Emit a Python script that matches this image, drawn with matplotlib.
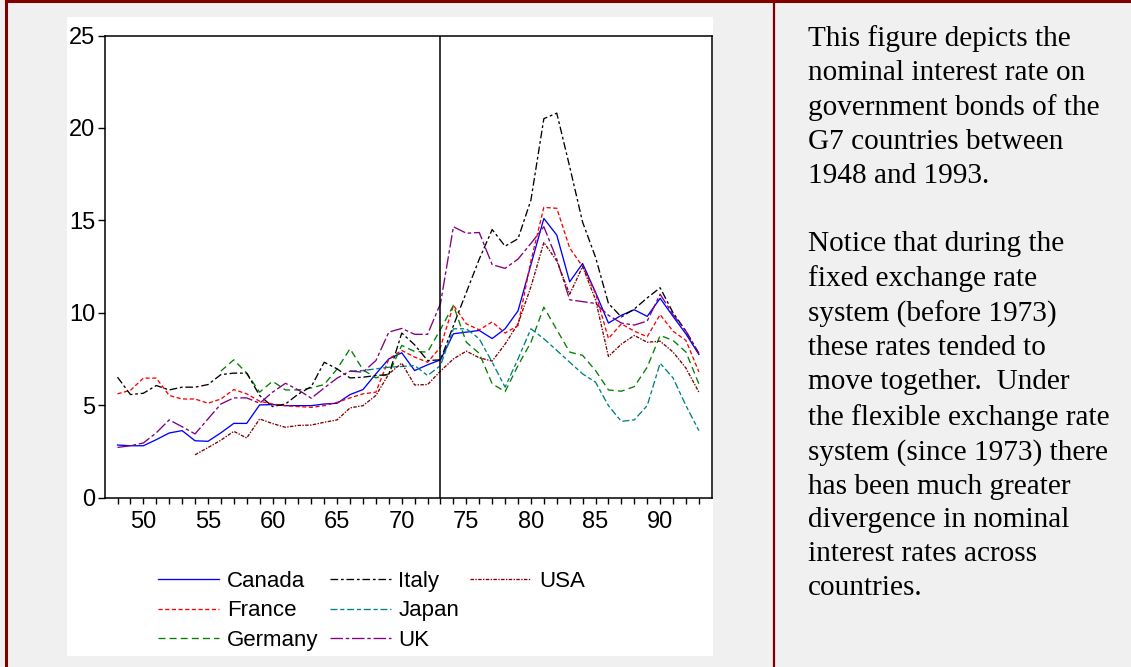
import numpy as np
import matplotlib
matplotlib.use("Agg")
import matplotlib.pyplot as plt
from matplotlib.patches import Rectangle
from matplotlib.lines import Line2D
from matplotlib.ticker import FixedLocator, FuncFormatter

nan = np.nan
years = list(range(1948, 1994))

# nominal government bond rates
canada = [2.84, 2.80, 2.80, 3.13, 3.49, 3.62, 3.07, 3.04, 3.50, 4.01,
          4.01, 5.01, 5.03, 4.97, 4.97, 4.97, 5.06, 5.10, 5.57, 5.84,
          6.69, 7.50, 7.83, 6.87, 7.18, 7.45, 8.86, 8.95, 9.04, 8.60,
          9.13, 10.10, 12.60, 15.10, 14.20, 11.67, 12.66, 11.10, 9.44, 9.86,
          10.16, 9.80, 10.78, 9.80, 8.85, 7.74]
france = [5.61, 5.80, 6.46, 6.46, 5.52, 5.33, 5.33, 5.10, 5.33, 5.84,
          5.61, 5.21, 5.06, 4.97, 4.92, 4.88, 4.97, 5.15, 5.39, 5.61,
          5.70, 7.50, 7.96, 7.60, 7.32, 8.14, 10.40, 9.40, 9.07, 9.50,
          8.90, 9.30, 12.80, 15.70, 15.65, 13.50, 12.50, 11.05, 8.60, 9.40,
          9.00, 8.70, 9.90, 9.00, 8.50, 6.80]
germany = [nan, nan, nan, nan, nan, nan, nan, nan, 6.84, 7.45,
           6.73, 5.70, 6.29, 5.82, 5.82, 5.93, 6.11, 6.96, 8.05, 6.91,
           6.47, 6.69, 8.23, 7.90, 7.87, 9.10, 10.40, 8.40, 7.80, 6.15,
           5.73, 7.14, 8.40, 10.30, 9.08, 7.87, 7.69, 6.87, 5.82, 5.75,
           6.00, 7.05, 8.77, 8.50, 7.87, 6.15]
italy = [6.51, 5.57, 5.64, 6.06, 5.82, 5.97, 5.97, 6.11, 6.65, 6.73,
         6.73, 5.52, 4.92, 5.06, 5.60, 6.00, 7.32, 6.96, 6.47, 6.51,
         6.60, 6.65, 8.90, 8.26, 7.41, 7.45, 9.30, 11.10, 12.90, 14.50,
         13.60, 14.00, 16.10, 20.50, 20.80, 17.90, 14.90, 13.00, 10.50, 9.77,
         10.20, 10.80, 11.35, 10.00, 9.00, 7.80]
japan = [nan, nan, nan, nan, nan, nan, nan, nan, nan, nan,
         nan, nan, nan, nan, nan, nan, nan, nan, 6.84, 6.87,
         6.96, 7.05, 7.09, 7.14, 6.60, 7.14, 9.13, 9.13, 8.59, 7.32,
         5.97, 7.50, 9.13, 8.59, 7.96, 7.32, 6.69, 6.24, 4.97, 4.12,
         4.20, 4.97, 7.27, 6.47, 4.97, 3.62]
uk = [2.71, 2.80, 2.95, 3.50, 4.20, 3.83, 3.44, 4.25, 5.06, 5.39,
      5.39, 5.10, 5.70, 6.18, 5.82, 5.37, 5.93, 6.46, 6.84, 6.78,
      7.41, 8.95, 9.15, 8.83, 8.83, 10.50, 14.65, 14.30, 14.34, 12.60,
      12.40, 12.90, 13.75, 14.65, 12.90, 10.70, 10.60, 10.50, 9.86, 9.44,
      9.33, 9.55, 11.00, 9.90, 9.00, 7.78]
usa = [nan, nan, nan, nan, nan, nan, 2.31, 2.70, 3.10, 3.58,
       3.22, 4.25, 4.00, 3.80, 3.90, 3.92, 4.07, 4.20, 4.85, 4.97,
       5.52, 6.69, 7.27, 6.09, 6.11, 6.84, 7.50, 7.92, 7.56, 7.38,
       8.30, 9.40, 11.40, 13.80, 12.80, 11.00, 12.50, 10.70, 7.63, 8.30,
       8.77, 8.40, 8.46, 7.87, 7.00, 5.70]

regime_break = 1973

note = ("This figure depicts the\n"
        "nominal interest rate on\n"
        "government bonds of the\n"
        "G7 countries between\n"
        "1948 and 1993.\n"
        "\n"
        "Notice that during the\n"
        "fixed exchange rate\n"
        "system (before 1973)\n"
        "these rates tended to\n"
        "move together.  Under\n"
        "the flexible exchange rate\n"
        "system (since 1973) there\n"
        "has been much greater\n"
        "divergence in nominal\n"
        "interest rates across\n"
        "countries.")

plt.rcParams['font.family'] = ['Liberation Sans', 'DejaVu Sans']
plt.rcParams['lines.scale_dashes'] = False

W, H = 1131, 667
fig = plt.figure(figsize=(W / 100, H / 100), dpi=100, facecolor='#f0f0f0')

# white panel behind the graph
fig.patches.append(Rectangle((66.7 / W, 1 - 656 / H), (712.7 - 66.7) / W, (656 - 17) / H,
                             transform=fig.transFigure, facecolor='white',
                             edgecolor='none', zorder=-5))
# dark red frame lines
dred = '#800000'
fig.add_artist(Line2D([6 / W, 6 / W], [0, 1], color=dred, lw=2.2))
fig.add_artist(Line2D([6 / W, 1], [1 - 1 / H, 1 - 1 / H], color=dred, lw=2.2))
fig.add_artist(Line2D([773.5 / W, 773.5 / W], [0, 1], color=dred, lw=1.6))

ax = fig.add_axes([104.6 / W, 1 - 497.5 / H, (711.8 - 104.6) / W, (497.5 - 35.5) / H])
ax.set_facecolor('white')

lw = 0.95
ax.plot(years, canada, color='#0000ff', lw=lw, label='Canada')
ax.plot(years, france, color='#ff0000', lw=lw, dashes=(3, 1.8), label='France')
ax.plot(years, germany, color='#008000', lw=lw, dashes=(5, 3), label='Germany')
ax.plot(years, italy, color='black', lw=lw, dashes=(5.5, 2, 2, 2), label='Italy')
ax.plot(years, japan, color='#008080', lw=lw, dashes=(5, 2, 3, 2), label='Japan')
ax.plot(years, uk, color='#800080', lw=lw, dashes=(9, 2, 2.5, 2), label='UK')
ax.plot(years, usa, color='#800000', lw=lw, dashes=(2.5, 1, 1, 1), label='USA')

ax.axvline(regime_break, color='black', lw=1.1)

ax.set_xlim(1947, 1994)
ax.set_ylim(0, 25)
ax.xaxis.set_major_locator(FixedLocator(range(1950, 1991, 5)))
ax.xaxis.set_minor_locator(FixedLocator(range(1948, 1994)))
ax.xaxis.set_major_formatter(FuncFormatter(lambda v, p: f"{int(v) % 100}"))
ax.set_yticks([0, 5, 10, 15, 20, 25])

for s in ax.spines.values():
    s.set_linewidth(1.1)
ax.tick_params(axis='x', which='both', direction='out', length=4.3, width=1.0,
               labelsize=17, pad=5.5)
ax.tick_params(axis='y', direction='out', length=5, width=1.0, labelsize=17, pad=1.5)

# legend fills column by column: pad with two blanks so USA sits alone in col 3
handles, labels = ax.get_legend_handles_labels()
blank = Line2D([], [], alpha=0)
handles = handles[:6] + [handles[6], blank, blank]
labels = labels[:6] + [labels[6], '', '']
fig.legend(handles, labels, loc='upper left', bbox_to_anchor=(158 / W, 1 - 571 / H),
           ncol=3, frameon=False, fontsize=16, handlelength=2.75, handletextpad=0.35,
           columnspacing=0.5, labelspacing=0.38, borderpad=0, borderaxespad=0)

fig.text(808 / W, 1 - 25 / H, note, ha='left', va='top', fontsize=21.1,
         family=['Liberation Serif', 'DejaVu Serif'], linespacing=1.395,
         color='black')

fig.savefig('out.png', dpi=100, facecolor=fig.get_facecolor())
